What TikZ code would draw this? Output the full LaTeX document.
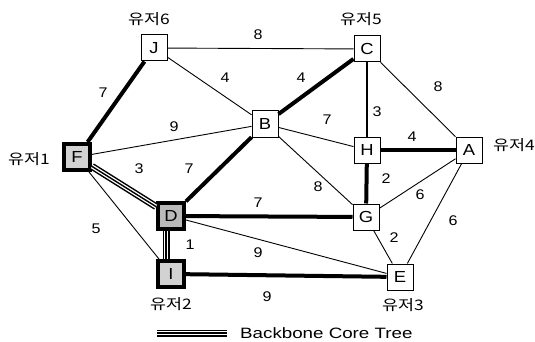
\documentclass[tikz,border=0pt]{standalone}
\usepackage{fontspec}
\setmainfont[FakeStretch=1.15]{Liberation Sans}
\newfontfamily\legfont[FakeStretch=1.25]{Liberation Sans}
\newfontfamily\krfont[FakeStretch=1.2]{Noto Sans CJK KR}
\begin{document}
\begin{tikzpicture}[x=1pt,y=-1pt,
  nbox/.style={draw, line width=1pt, minimum size=26pt, inner sep=0pt, fill=white, font=\fontsize{16}{16}\selectfont},
  cbox/.style={draw, line width=4pt, minimum size=26pt, inner sep=0pt, font=\fontsize{16}{16}\selectfont},
  lbl/.style={inner sep=0pt, font=\fontsize{14}{14}\selectfont},
  usr/.style={inner sep=0pt, font=\krfont\fontsize{14.5}{14.5}\selectfont},
  thinE/.style={line width=0.9pt},
  thickE/.style={line width=4pt},
  tripleE/.style={preaction={draw=black,line width=7pt}, draw=white, line width=4pt,
                  postaction={draw=black,line width=1.4pt}}]
\useasboundingbox (0,0) rectangle (535,342);
% nodes
\node[nbox] (J) at (154,48) {J};
\node[nbox] (C) at (367,49) {C};
\node[nbox] (B) at (265,124) {B};
\node[nbox] (H) at (367,150) {H};
\node[nbox] (A) at (469,150) {A};
\node[nbox] (G) at (366,217) {G};
\node[nbox] (E) at (400,277) {E};
\node[cbox, fill=gray!35] (F) at (77,157) {F};
\node[cbox, fill=gray!55] (D) at (171,216) {D};
\node[cbox, fill=gray!35] (I) at (171,274) {I};
% user labels
\node[usr] (u6) at (149,19) {유저6};
\node[usr] (u5) at (361,19) {유저5};
\node[usr] (u4) at (514,145) {유저4};
\node[usr] (u1) at (29,159) {유저1};
\node[usr] (u2) at (171,304) {유저2};
\node[usr] (u3) at (403,305) {유저3};
% thin edges
\draw[thinE] (J) -- (C);
\draw[thinE] (J) -- (B);
\draw[thinE] (C) -- (A);
\draw[line width=1.4pt] (C) -- (H);
\draw[thinE] (B) -- (F);
\draw[thinE] (B) -- (H);
\draw[thinE] (B) -- (G);
\draw[thinE] (G) -- (A);
\draw[thinE] (G) -- (E);
\draw[thinE] (A) -- (E);
\draw[thinE] (F) -- (I);
\draw[thinE] (D) -- (E);
% thick edges
\draw[thickE] (J) -- (F);
\draw[thickE] (C) -- (B);
\draw[thickE] (B) -- (D);
\draw[thickE] (H) -- (A);
\draw[thickE] (H) -- (G);
\draw[thickE] (D) -- (G);
\draw[thickE] (I) -- (E);
% backbone
\draw[tripleE] (F) -- (D);
\draw[tripleE] ([xshift=-5pt]D.south) -- ([xshift=-5pt]I.north);
% edge labels
\node[lbl] (lJC) at (258,35) {8};
\node[lbl] (lJB) at (225,78) {4};
\node[lbl] (lJF) at (103,93) {7};
\node[lbl] (lBF) at (174,127) {9};
\node[lbl] (lCB) at (301,78) {4};
\node[lbl] (lCH) at (377,112) {3};
\node[lbl] (lCA) at (438,87) {8};
\node[lbl] (lBH) at (327,120) {7};
\node[lbl] (lHA) at (412,137) {4};
\node[lbl] (lHG) at (386,179) {2};
\node[lbl] (lBG) at (318,187) {8};
\node[lbl] (lGA) at (420,195) {6};
\node[lbl] (lAE) at (453,221) {6};
\node[lbl] (lGE) at (394,238) {2};
\node[lbl] (lFD) at (139,169) {3};
\node[lbl] (lBD) at (189,169) {7};
\node[lbl] (lFI) at (96,229) {5};
\node[lbl] (lDI) at (190,245) {1};
\node[lbl] (lDG) at (258,203) {7};
\node[lbl] (lDE) at (258,253) {9};
\node[lbl] (lIE) at (267,297) {9};
% legend
\coordinate (lg1) at (157,333);
\coordinate (lg2) at (227,333);
\draw[tripleE] (lg1) -- (lg2);
\node[inner sep=0pt, anchor=west, font=\legfont\fontsize{15}{15}\selectfont] (leg) at (240,333) {Backbone Core Tree};
\end{tikzpicture}
\end{document}
